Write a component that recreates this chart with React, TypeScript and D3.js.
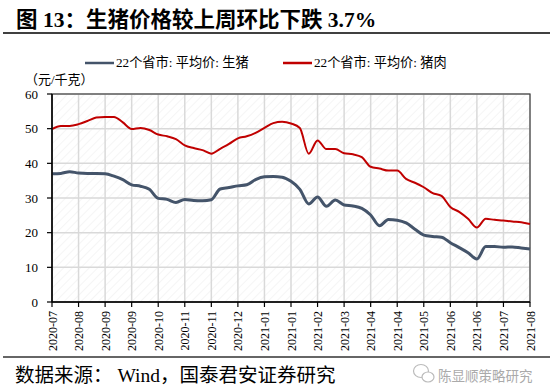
import React from 'react';
import * as d3 from 'd3';

const tickLabels = ['2020-07','2020-08','2020-09','2020-09','2020-10','2020-11','2020-11','2020-12','2021-01','2021-01','2021-02','2021-03','2021-04','2021-04','2021-05','2021-06','2021-06','2021-07','2021-08'];

// 22个省市: 平均价: 生猪 (元/千克), weekly
const hogPrice = [37.0,37.1,37.6,37.2,37.1,37.1,37.0,36.3,35.3,33.8,33.4,32.5,29.9,29.6,28.7,29.6,29.3,29.2,29.5,32.6,33.0,33.5,33.8,35.3,36.1,36.2,36.0,34.8,32.5,28.3,30.3,27.6,29.4,28.0,27.7,27.0,25.1,22.0,23.8,23.6,22.8,21.0,19.3,18.9,18.7,17.1,15.7,14.2,12.4,16.0,16.0,15.8,15.9,15.6,15.3];
// 22个省市: 平均价: 猪肉
const porkPrice = [49.9,50.8,50.8,51.3,52.2,53.2,53.4,53.4,51.8,49.9,50.2,49.6,48.3,47.8,47.0,45.2,44.4,43.8,42.8,44.2,45.6,47.2,47.8,48.8,50.2,51.6,52.0,51.5,50.2,42.8,46.6,44.1,44.1,42.9,42.6,41.8,39.0,38.5,37.9,37.9,35.5,34.4,33.1,31.4,30.6,27.4,26.0,24.0,21.5,24.0,23.7,23.5,23.2,23.0,22.5];

const yTicks = [0, 10, 20, 30, 40, 50, 60];
const seriesNames = ['22个省市: 平均价: 生猪', '22个省市: 平均价: 猪肉'];
const seriesColors = ['#44546A', '#C00000'];

const SERIF = '"Liberation Serif", "Noto Sans CJK SC", serif';

export default function App() {
  const W = 550, H = 392;
  const left = 52, right = 530, top = 94, bottom = 302;
  const x = d3.scaleLinear().domain([0, hogPrice.length - 1]).range([left, right]);
  const y = d3.scaleLinear().domain([0, 60]).range([bottom, top]);
  const line = d3.line<number>().x((_, i) => x(i)).y(d => y(d)).curve(d3.curveMonotoneX);
  const tickIdx = tickLabels.map((_, i) => i * 3);

  return (
    <svg width={W} height={H} style={{ position: 'absolute', left: 0, top: 0, background: '#fff' }}>
      <defs>
        <pattern id="hatch" width="6" height="6" patternUnits="userSpaceOnUse" patternTransform="rotate(45)">
          <line x1="0" y1="0" x2="0" y2="6" stroke="#ececec" strokeWidth="1" />
        </pattern>
      </defs>
      {/* Title */}
      <text x={16} y={27} fontFamily={SERIF} fontWeight="bold" fontSize={21.5} fill="#000">图 13：生猪价格较上周环比下跌 3.7%</text>
      <line x1={3} x2={550} y1={33} y2={33} stroke="#000" strokeWidth={1.5} />

      {/* Legend */}
      {seriesNames.map((n, i) => {
        const lx = i === 0 ? 85 : 283;
        return (
          <g key={n}>
            <line x1={lx} x2={lx + 29} y1={63} y2={63} stroke={seriesColors[i]} strokeWidth={2.5} />
            <text x={lx + 31} y={67} fontFamily={SERIF} fontSize={13.2} fill="#000">{n}</text>
          </g>
        );
      })}
      <text x={25} y={84} fontFamily={SERIF} fontSize={13} fill="#000">（元/千克）</text>

      {/* Plot background */}
      <rect x={left} y={top} width={right - left} height={bottom - top} fill="url(#hatch)" />
      {yTicks.map(t => (
        <line key={'gy' + t} x1={left} x2={right} y1={y(t)} y2={y(t)} stroke="#d9d9d9" strokeWidth={1.5} />
      ))}
      {tickIdx.map(i => (
        <line key={'gx' + i} x1={x(i)} x2={x(i)} y1={top} y2={bottom} stroke="#d9d9d9" strokeWidth={1.5} />
      ))}
      <rect x={left} y={top} width={right - left} height={bottom - top} fill="none" stroke="#404040" strokeWidth={1.2} />

      {/* Lines */}
      <path d={line(hogPrice) || ''} fill="none" stroke={seriesColors[0]} strokeWidth={3} strokeLinejoin="round" />
      <path d={line(porkPrice) || ''} fill="none" stroke={seriesColors[1]} strokeWidth={2} strokeLinejoin="round" />

      {/* Axes */}
      <line x1={left} x2={left} y1={top} y2={bottom} stroke="#000" strokeWidth={1.5} />
      <line x1={left} x2={right} y1={bottom} y2={bottom} stroke="#000" strokeWidth={1.5} />
      {yTicks.map(t => (
        <g key={'yt' + t}>
          <line x1={left - 5} x2={left} y1={y(t)} y2={y(t)} stroke="#000" strokeWidth={1.2} />
          <text x={38} y={y(t) + 4.5} textAnchor="end" fontFamily={SERIF} fontSize={13} fill="#000">{t}</text>
        </g>
      ))}
      {tickIdx.map((i, k) => (
        <g key={'xt' + i}>
          <line x1={x(i)} x2={x(i)} y1={bottom} y2={bottom + 5} stroke="#000" strokeWidth={1.2} />
          <text transform={`translate(${x(i) + 4.5},${bottom + 9}) rotate(-90)`} textAnchor="end" fontFamily={SERIF} fontSize={12} fill="#000">{tickLabels[k]}</text>
        </g>
      ))}

      {/* Footer */}
      <line x1={3} x2={550} y1={357} y2={357} stroke="#333" strokeWidth={1.5} />
      <text x={15} y={382} fontFamily={SERIF} fontSize={19.5} fill="#000">数据来源： Wind，国泰君安证券研究</text>
      <g stroke="#bbb" strokeWidth={1.2}>
        <ellipse cx={421} cy={371} rx={7.5} ry={6.5} fill="#fff" />
        <ellipse cx={428} cy={377} rx={6} ry={5} fill="#fff" />
      </g>
      <text x={438} y={381} fontFamily='"Noto Sans CJK SC", sans-serif' fontSize={13.5} fill="#aaa">陈显顺策略研究</text>
    </svg>
  );
}
